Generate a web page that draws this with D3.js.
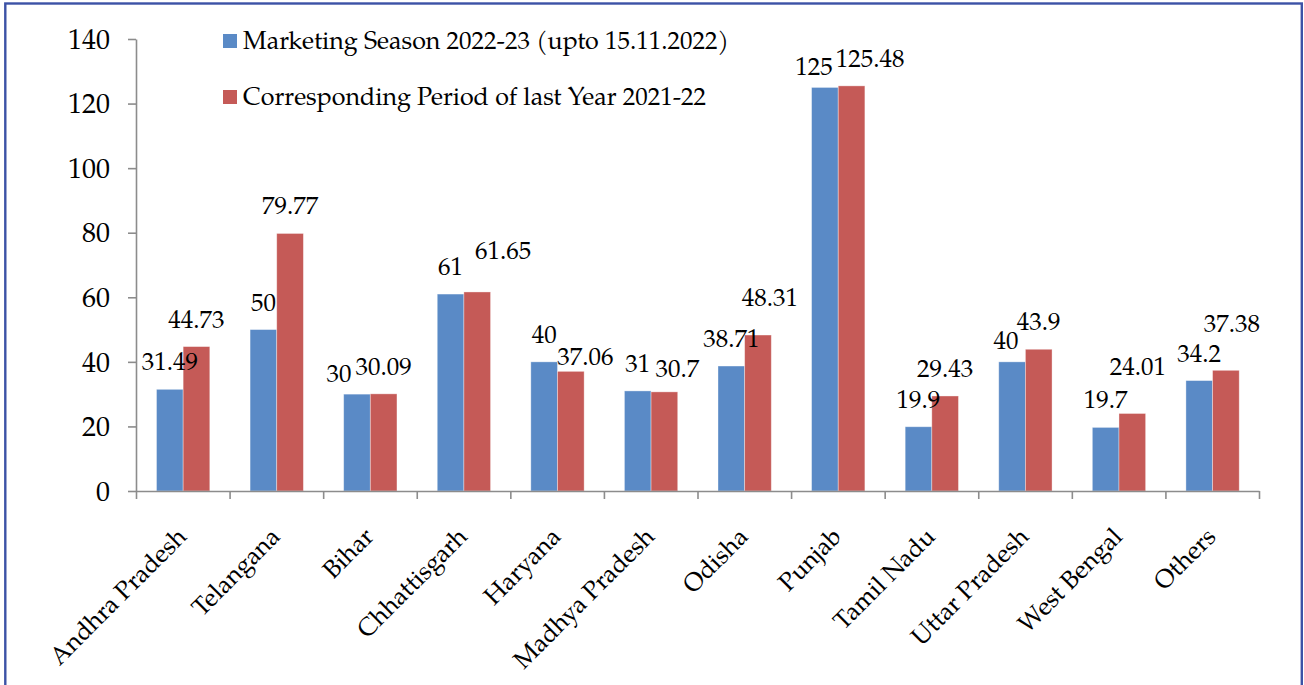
<!DOCTYPE html>
<html>
<head>
<meta charset="utf-8">
<script src="https://cdn.jsdelivr.net/npm/d3@7"></script>
<style>
  html, body { margin: 0; padding: 0; background: #fff; }
  svg { display: block; }
</style>
</head>
<body>
<svg id="chart" width="1304" height="685"></svg>
<script>
// ---------------- DATA ----------------
const categories = ["Andhra Pradesh", "Telangana", "Bihar", "Chhattisgarh", "Haryana",
  "Madhya Pradesh", "Odisha", "Punjab", "Tamil Nadu", "Uttar Pradesh", "West Bengal", "Others"];
const seriesNames = ["Marketing Season 2022-23 (upto 15.11.2022)",
  "Corresponding Period of last Year 2021-22"];
const season2022 = [31.49, 50, 30, 61, 40, 31, 38.71, 125, 19.9, 40, 19.7, 34.2];
const season2021 = [44.73, 79.77, 30.09, 61.65, 37.06, 30.7, 48.31, 125.48, 29.43, 43.9, 24.01, 37.38];
const yTicks = [0, 20, 40, 60, 80, 100, 120, 140];

// ---------------- LAYOUT / STYLE ----------------
const FONT = '"TeX Gyre Pagella", "URW Palladio L", "Liberation Serif", serif';
const colors = ["#5a8ac6", "#c55a57"];
const plot = { left: 136, right: 1259, top: 39, bottom: 491 };
// manual nudges of individual data labels (as moved in the original), key "series-category" -> [dx, dy]
const labelNudge = {
  "0-2": [-18, 7], "0-7": [-11, 6.5], "0-9": [-6, 6.5],
  "1-3": [26, -14], "1-4": [14.5, 13], "1-5": [13, 4], "1-6": [12, -10],
  "1-7": [18.5, 0], "1-10": [5.5, -19.5], "1-11": [6, -19.5]
};

const svg = d3.select("#chart").style("font-family", FONT);

// border
svg.append("rect")
  .attr("x", 5.3).attr("y", 3.5)
  .attr("width", 1296.5).attr("height", 720)
  .attr("fill", "none").attr("stroke", "#3c52a6").attr("stroke-width", 2.4);

const x0 = d3.scaleBand().domain(categories).range([plot.left, plot.right]).padding(0);
const x1 = d3.scaleBand().domain([0, 1]).range([20.5, 73.8]).padding(0);
const y = d3.scaleLinear().domain([0, 140]).range([plot.bottom, plot.top]);

const rows = categories.map((c, i) => ({ cat: c, i, values: [season2022[i], season2021[i]] }));

// bars
const groups = svg.append("g").selectAll("g").data(rows).join("g")
  .attr("transform", d => `translate(${x0(d.cat)},0)`);

groups.selectAll("rect").data(d => d.values.map((v, s) => ({ v, s, i: d.i }))).join("rect")
  .attr("x", d => x1(d.s))
  .attr("width", x1.bandwidth())
  .attr("y", d => y(d.v))
  .attr("height", d => y(0) - y(d.v))
  .attr("fill", d => colors[d.s])
  .attr("stroke", "#ffffff").attr("stroke-opacity", 0.45).attr("stroke-width", 0.8);

// y axis
const yAxis = svg.append("g")
  .attr("transform", `translate(${plot.left},0)`)
  .call(d3.axisLeft(y).tickValues(yTicks).tickSize(8).tickSizeOuter(0).tickPadding(18));
yAxis.attr("font-family", null).attr("font-size", null);
yAxis.select(".domain").attr("stroke", "#8c8c8c").attr("stroke-width", 1.6);
yAxis.selectAll(".tick line").attr("stroke", "#8c8c8c").attr("stroke-width", 1.6);
yAxis.selectAll(".tick text")
  .style("font-family", FONT)
  .style("font-size", "28px").attr("fill", "#000").attr("dy", "0.33em");

// x axis (boundary ticks)
const xb = d3.scaleLinear().domain([0, categories.length]).range([plot.left, plot.right]);
const xAxis = svg.append("g")
  .attr("transform", `translate(0,${plot.bottom})`)
  .call(d3.axisBottom(xb).tickValues(d3.range(categories.length + 1)).tickFormat("").tickSize(8).tickSizeOuter(0));
xAxis.select(".domain").attr("stroke", "#8c8c8c").attr("stroke-width", 1.6);
xAxis.selectAll(".tick line").attr("stroke", "#8c8c8c").attr("stroke-width", 1.6);

// category labels
svg.append("g").selectAll("text").data(categories).join("text")
  .attr("transform", c => `translate(${x0(c) + x0.bandwidth() / 2 + 5},${plot.bottom + 47}) rotate(-45)`)
  .attr("text-anchor", "end")
  .style("font-family", FONT)
  .style("font-size", "25px")
  .attr("fill", "#000")
  .text(c => c);

// data labels
groups.selectAll("text.val").data(d => d.values.map((v, s) => ({ v, s, i: d.i }))).join("text")
  .attr("class", "val")
  .attr("text-anchor", "middle")
  .style("font-family", FONT)
  .style("font-size", "25px")
  .attr("fill", "#000")
  .attr("x", d => x1(d.s) + x1.bandwidth() / 2 + ((labelNudge[d.s + "-" + d.i] || [0, 0])[0]))
  .attr("y", d => y(d.v) - 19 + ((labelNudge[d.s + "-" + d.i] || [0, 0])[1]))
  .text(d => d.v);

// legend
const legend = svg.append("g").attr("transform", "translate(223,34)");
const li = legend.selectAll("g").data(seriesNames).join("g")
  .attr("transform", (d, i) => `translate(0,${i * 56})`);
li.append("rect").attr("width", 14).attr("height", 14).attr("fill", (d, i) => colors[i]);
li.append("text").attr("x", 20).attr("y", 15)
  .style("font-family", FONT).style("font-size", "25px").attr("fill", "#000")
  .text(d => d);
</script>
</body>
</html>
